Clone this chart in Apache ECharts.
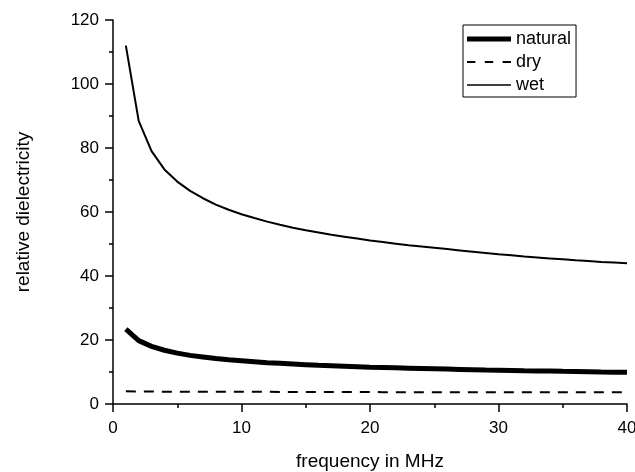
<!DOCTYPE html>
<html>
<head>
<meta charset="utf-8">
<script src="https://cdn.jsdelivr.net/npm/echarts@6/dist/echarts.min.js"></script>
<style>
  html, body { margin: 0; padding: 0; background: #fff; }
  #chart { width: 635px; height: 472px; }
</style>
</head>
<body>
<div id="chart"></div>
<script>
// Frequency in MHz
const frequency = [1, 2, 3, 4, 5, 6, 7, 8, 9, 10,
  11, 12, 13, 14, 15, 16, 17, 18, 19, 20,
  21, 22, 23, 24, 25, 26, 27, 28, 29, 30,
  31, 32, 33, 34, 35, 36, 37, 38, 39, 40];

// Relative dielectricity per moisture state
const natural = [23.4, 19.8, 18.0, 16.8, 15.9, 15.2, 14.7, 14.2, 13.8, 13.5,
  13.2, 12.9, 12.7, 12.5, 12.3, 12.1, 11.95, 11.8, 11.65, 11.5,
  11.4, 11.3, 11.2, 11.1, 11.0, 10.9, 10.8, 10.7, 10.6, 10.55,
  10.5, 10.4, 10.35, 10.3, 10.2, 10.15, 10.1, 10.0, 9.95, 9.9];

const dry = [4.0, 3.9, 3.9, 3.85, 3.85, 3.8, 3.8, 3.8, 3.8, 3.8,
  3.8, 3.8, 3.75, 3.75, 3.75, 3.75, 3.75, 3.75, 3.75, 3.75,
  3.7, 3.7, 3.7, 3.7, 3.7, 3.7, 3.7, 3.7, 3.7, 3.7,
  3.7, 3.7, 3.7, 3.7, 3.7, 3.7, 3.7, 3.7, 3.7, 3.7];

const wet = [112.0, 88.5, 79.0, 73.3, 69.5, 66.6, 64.3, 62.3, 60.7, 59.3,
  58.1, 57.0, 56.0, 55.1, 54.3, 53.6, 52.9, 52.3, 51.7, 51.1,
  50.6, 50.1, 49.6, 49.2, 48.8, 48.4, 48.0, 47.6, 47.2, 46.8,
  46.5, 46.1, 45.8, 45.5, 45.2, 44.9, 44.7, 44.4, 44.2, 44.0];

const seriesNames = ['natural', 'dry', 'wet'];

// Legend swatches: thick solid, dashed, thin solid
const legendIcons = [
  'path://M0,0H44V5H0Z',
  'path://M0,0H8V2H0Z M17,0H25V2H17Z M34,0H42V2H34Z',
  'path://M0,0H44V1.6H0Z'
];

const pairs = ys => frequency.map((f, i) => [f, ys[i]]);

const font = '"Liberation Sans", Arial, sans-serif';
const chart = echarts.init(document.getElementById('chart'), null, { renderer: 'canvas' });

chart.setOption({
  animation: false,
  backgroundColor: '#fff',
  grid: { left: 113, right: 8, top: 20, bottom: 68, containLabel: false, outerBoundsMode: 'none' },
  legend: {
    orient: 'vertical',
    left: 463,
    top: 25,
    padding: [5, 5, 3, 4],
    itemWidth: 44,
    itemHeight: 14,
    itemGap: 5,
    borderColor: '#000',
    borderWidth: 1,
    symbolKeepAspect: true,
    data: seriesNames.map((n, i) => ({ name: n, icon: legendIcons[i] })),
    textStyle: { fontFamily: font, fontSize: 18, color: '#000' }
  },
  xAxis: {
    type: 'value',
    min: 0, max: 40, interval: 10,
    name: 'frequency in MHz',
    nameLocation: 'middle',
    nameGap: 48,
    nameTextStyle: { fontFamily: font, fontSize: 19, color: '#000' },
    axisLine: { lineStyle: { color: '#000', width: 1.5 } },
    axisTick: { length: 8, lineStyle: { color: '#000', width: 1.5 } },
    minorTick: { show: true, splitNumber: 2, length: 4, lineStyle: { color: '#000', width: 1.5 } },
    axisLabel: { fontFamily: font, fontSize: 17, color: '#000', margin: 16 },
    splitLine: { show: false }
  },
  yAxis: {
    type: 'value',
    min: 0, max: 120, interval: 20,
    name: 'relative dielectricity',
    nameLocation: 'middle',
    nameGap: 80,
    nameTextStyle: { fontFamily: font, fontSize: 19, color: '#000' },
    axisLine: { show: true, lineStyle: { color: '#000', width: 1.5 } },
    axisTick: { show: true, length: 8, lineStyle: { color: '#000', width: 1.5 } },
    minorTick: { show: true, splitNumber: 2, length: 4, lineStyle: { color: '#000', width: 1.5 } },
    axisLabel: { fontFamily: font, fontSize: 17, color: '#000', margin: 14 },
    splitLine: { show: false }
  },
  series: [
    {
      name: 'natural', type: 'line', data: pairs(natural),
      symbol: 'none', color: '#000',
      lineStyle: { color: '#000', width: 5 }
    },
    {
      name: 'dry', type: 'line', data: pairs(dry),
      symbol: 'none', color: '#000',
      lineStyle: { color: '#000', width: 2, type: [10, 8] }
    },
    {
      name: 'wet', type: 'line', data: pairs(wet),
      symbol: 'none', color: '#000',
      lineStyle: { color: '#000', width: 2 }
    }
  ]
});
</script>
</body>
</html>
